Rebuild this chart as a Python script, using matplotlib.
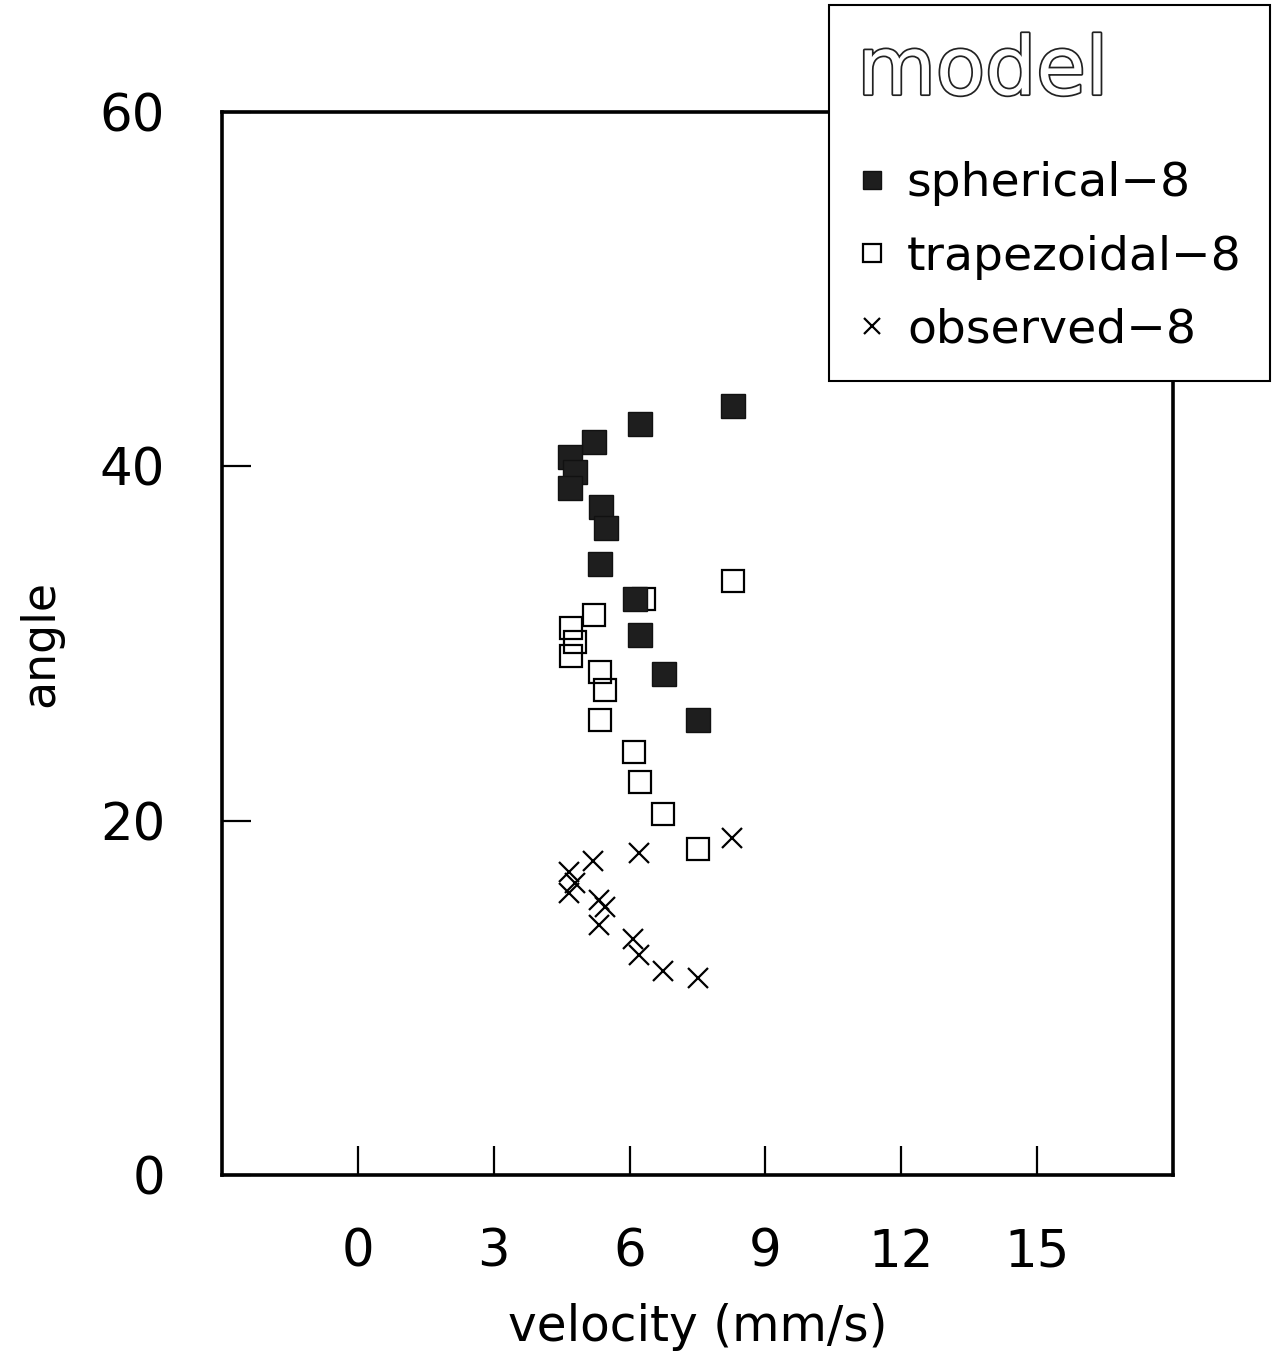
import matplotlib
matplotlib.use("Agg")
import matplotlib.pyplot as plt
import matplotlib.patheffects as pe

plt.rcParams['font.family'] = ['DejaVu Sans']

# data (velocity mm/s, angle)
sph_x = [8.29, 6.24, 5.21, 4.68, 4.79, 4.68, 5.36, 5.47, 5.34, 6.11, 6.22, 6.75, 7.52]
sph_y = [43.4, 42.4, 41.4, 40.5, 39.7, 38.8, 37.7, 36.5, 34.5, 32.5, 30.5, 28.3, 25.7]
trap_x = [8.29, 6.31, 5.21, 4.70, 4.79, 4.70, 5.34, 5.45, 5.34, 6.09, 6.22, 6.73, 7.50]
trap_y = [33.5, 32.5, 31.6, 30.9, 30.1, 29.3, 28.4, 27.4, 25.7, 23.9, 22.2, 20.4, 18.4]
obs_x = [8.27, 6.20, 5.19, 4.66, 4.79, 4.66, 5.32, 5.45, 5.32, 6.07, 6.20, 6.73, 7.50]
obs_y = [19.0, 18.2, 17.7, 17.1, 16.5, 15.9, 15.5, 15.1, 14.1, 13.3, 12.4, 11.5, 11.1]

x_ticks = [0, 3, 6, 9, 12, 15]
y_ticks = [0, 20, 40, 60]

fig = plt.figure(figsize=(12.77, 13.58), dpi=100)
ax = fig.add_axes([222/1277, 1-1175/1358, (1173-222)/1277, (1175-112)/1358])

ax.plot(trap_x, trap_y, linestyle='none', marker='s', markersize=16,
        markerfacecolor='none', markeredgecolor='black', markeredgewidth=1.6,
        label='trapezoidal\u22128', zorder=2)
ax.plot(sph_x, sph_y, linestyle='none', marker='s', markersize=17,
        markerfacecolor='#1e1e1e', markeredgecolor='#111111', markeredgewidth=1.0,
        label='spherical\u22128', zorder=3)
ax.plot(obs_x, obs_y, linestyle='none', marker='x', markersize=15,
        color='black', markeredgewidth=1.6, label='observed\u22128', zorder=4)

ax.set_xlim(-3, 18)
ax.set_ylim(0, 60)
ax.set_xticks(x_ticks)
ax.set_yticks(y_ticks)
ax.tick_params(direction='in', length=21, width=1.6, labelsize=37, color='black')
ax.tick_params(axis='y', pad=41)
ax.tick_params(axis='x', pad=38)
for s in ax.spines.values():
    s.set_linewidth(2.6)

ax.set_xlabel('velocity (mm/s)', fontsize=35, labelpad=18)
ax.set_ylabel('angle', fontsize=33, labelpad=26)

handles, labels = ax.get_legend_handles_labels()
order = [1, 0, 2]
leg = ax.legend([handles[i] for i in order], [labels[i] for i in order],
                loc='upper right', bbox_to_anchor=(1270/1277, 1-5/1358),
                bbox_transform=fig.transFigure, frameon=True, fancybox=False,
                framealpha=1.0,
                fontsize=34, title='model', title_fontsize=58,
                alignment='left', markerscale=0.8, handlelength=0.6,
                handletextpad=0.45, borderpad=0.6, labelspacing=0.6,
                borderaxespad=0)
leg._legend_box.sep = 36
leg.get_frame().set_edgecolor('black')
leg.get_frame().set_linewidth(1.5)
t = leg.get_title()
t.set_color('white')
t.set_path_effects([pe.withStroke(linewidth=2.5, foreground='#222222')])

fig.savefig('out.png', dpi=100)
